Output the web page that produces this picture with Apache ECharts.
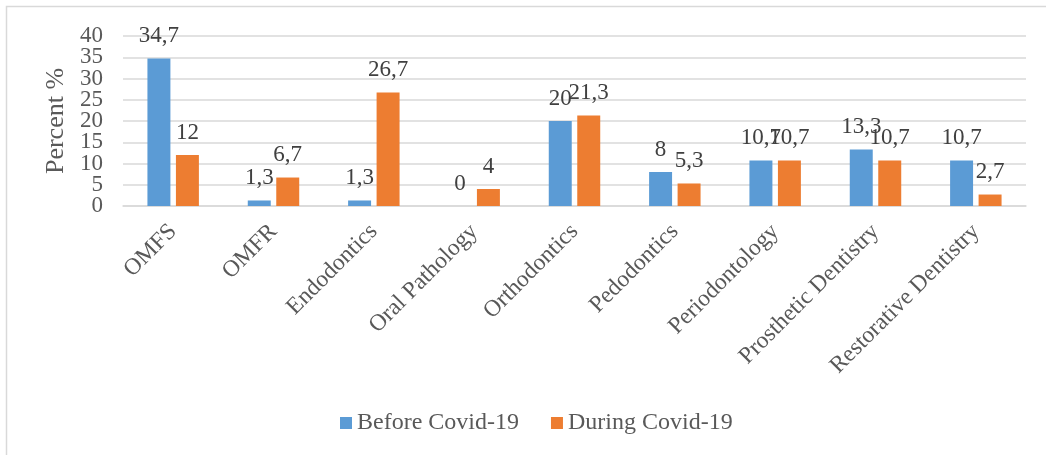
<!DOCTYPE html>
<html>
<head>
<meta charset="utf-8">
<script src="https://cdn.jsdelivr.net/npm/echarts@6/dist/echarts.min.js"></script>
<style>
  html, body { margin: 0; padding: 0; background: #fff; }
  #chart { width: 1046px; height: 455px; }
</style>
</head>
<body>
<div id="chart"></div>
<script>
// Specialty categories along the x axis
const categories = [
  'OMFS', 'OMFR', 'Endodontics', 'Oral Pathology', 'Orthodontics',
  'Pedodontics', 'Periodontology', 'Prosthetic Dentistry', 'Restorative Dentistry'
];
// Percent of respondents per specialty
const beforeCovid = [34.7, 1.3, 1.3, 0, 20, 8, 10.7, 13.3, 10.7];
const duringCovid = [12, 6.7, 26.7, 4, 21.3, 5.3, 10.7, 10.7, 2.7];
const seriesNames = ['Before Covid-19', 'During Covid-19'];
const yTicks = { min: 0, max: 40, step: 5 };

const FONT = '"Liberation Serif", "Times New Roman", serif';
const comma = v => String(v).replace('.', ',');

const chart = echarts.init(document.getElementById('chart'), null, { renderer: 'canvas' });

const labelStyle = {
  show: true,
  position: 'top',
  distance: 11,
  color: '#404040',
  fontFamily: FONT,
  fontSize: 23,
  formatter: p => comma(p.value)
};

// The tick labels sit close together, so the value scale is drawn by two
// stacked axes sharing one range: one labels the even steps, the other the odd.
function valueAxis(oddSteps, withGrid) {
  return {
    type: 'value',
    position: 'left',
    min: yTicks.min,
    max: yTicks.max,
    interval: yTicks.step,
    name: withGrid ? 'Percent %' : '',
    nameLocation: 'middle',
    nameGap: 53,
    nameTextStyle: { color: '#595959', fontFamily: FONT, fontSize: 26 },
    axisLine: { show: false },
    axisTick: { show: false },
    splitLine: { show: withGrid, lineStyle: { color: '#d9d9d9', width: 1.5 } },
    axisLabel: {
      margin: 20,
      color: '#595959',
      fontFamily: FONT,
      fontSize: 23,
      showMinLabel: true,
      showMaxLabel: true,
      formatter: v => ((Math.round(v / yTicks.step) % 2 === 1) === oddSteps ? String(v) : '')
    }
  };
}

chart.setOption({
  animation: false,
  backgroundColor: '#ffffff',
  graphic: [{
    type: 'rect',
    shape: { x: 6.5, y: 6.5, width: 1100, height: 500 },
    style: { fill: 'none', stroke: '#d9d9d9', lineWidth: 1.5 },
    silent: true
  }],
  grid: { left: 123, right: 20, top: 36, bottom: 249, containLabel: false },
  legend: {
    left: 335,
    top: 406,
    itemWidth: 12,
    itemHeight: 12,
    itemGap: 32,
    icon: 'rect',
    textStyle: { color: '#595959', fontFamily: FONT, fontSize: 24 },
    data: seriesNames
  },
  xAxis: {
    type: 'category',
    data: categories,
    axisLine: { show: true, lineStyle: { color: '#d9d9d9', width: 1.5 } },
    axisTick: { show: false },
    axisLabel: {
      interval: 0,
      rotate: 45,
      margin: 22,
      color: '#595959',
      fontFamily: FONT,
      fontSize: 23.5
    }
  },
  yAxis: [valueAxis(false, true), valueAxis(true, false)],
  series: [
    {
      name: seriesNames[0],
      type: 'bar',
      yAxisIndex: 0,
      data: beforeCovid,
      barWidth: '22.9%',
      barGap: '24%',
      itemStyle: { color: '#5b9bd5' },
      label: labelStyle
    },
    {
      name: seriesNames[1],
      type: 'bar',
      yAxisIndex: 0,
      data: duringCovid,
      barWidth: '22.9%',
      barGap: '24%',
      itemStyle: { color: '#ed7d31' },
      label: labelStyle
    }
  ]
});
</script>
</body>
</html>
